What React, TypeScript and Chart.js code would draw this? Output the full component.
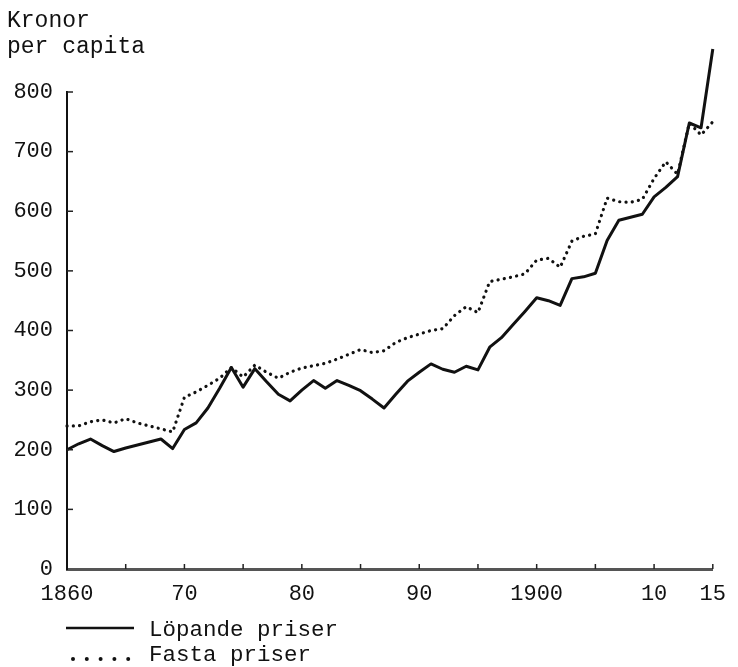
import React, { useEffect, useRef } from 'react';
import { Chart, registerables } from 'chart.js';

Chart.register(...registerables);

const years = [
  1860, 1861, 1862, 1863, 1864, 1865, 1866, 1867, 1868, 1869,
  1870, 1871, 1872, 1873, 1874, 1875, 1876, 1877, 1878, 1879,
  1880, 1881, 1882, 1883, 1884, 1885, 1886, 1887, 1888, 1889,
  1890, 1891, 1892, 1893, 1894, 1895, 1896, 1897, 1898, 1899,
  1900, 1901, 1902, 1903, 1904, 1905, 1906, 1907, 1908, 1909,
  1910, 1911, 1912, 1913, 1914, 1915,
];

const lopandePriser = [
  200, 210, 218, 207, 197, 203, 208, 213, 218, 202,
  234, 245, 270, 303, 338, 305, 336, 314, 293, 282,
  300, 316, 303, 316, 308, 299, 285, 270, 293, 315,
  330, 344, 335, 330, 340, 334, 372, 388, 410, 432,
  455, 450, 442, 487, 490, 496, 551, 585, 590, 595,
  624, 640, 658, 748, 740, 872,
];

const fastaPriser = [
  240, 240, 247, 250, 245, 252, 245, 240, 235, 230,
  288, 297, 308, 320, 338, 322, 342, 330, 320, 330,
  337, 341, 345, 352, 360, 368, 363, 366, 380, 388,
  394, 400, 403, 425, 440, 430, 482, 486, 490, 495,
  518, 521, 506, 550, 558, 562, 622, 616, 615, 620,
  655, 683, 662, 748, 728, 750,
];

const xTickLabels: Record<number, string> = {
  1860: '1860', 1870: '70', 1880: '80', 1890: '90', 1900: '1900', 1910: '10', 1915: '15',
};

const yTitleLines = ['Kronor', 'per capita'];
const legendLabels = ['Löpande priser', 'Fasta priser'];

const FONT = "'Liberation Mono', 'DejaVu Sans Mono', monospace";

const innerTicks = {
  id: 'innerTicks',
  afterDraw(chart: any) {
    const { ctx, scales } = chart;
    const x = scales.x;
    const y = scales.y;
    ctx.save();
    ctx.strokeStyle = '#222';
    ctx.lineWidth = 1.5;
    y.ticks.forEach((t: any) => {
      if (t.value === 0) return;
      const py = y.getPixelForValue(t.value);
      ctx.beginPath();
      ctx.moveTo(x.left, py);
      ctx.lineTo(x.left + 6, py);
      ctx.stroke();
    });
    x.ticks.forEach((t: any) => {
      if (t.value === 1860) return;
      const px = x.getPixelForValue(t.value);
      ctx.beginPath();
      ctx.moveTo(px, y.bottom);
      ctx.lineTo(px, y.bottom - 5);
      ctx.stroke();
    });
    ctx.restore();
  },
};

const textPlugin = {
  id: 'textPlugin',
  afterDraw(chart: any) {
    const { ctx } = chart;
    ctx.save();
    ctx.fillStyle = '#111';
    ctx.textAlign = 'left';
    ctx.textBaseline = 'alphabetic';
    ctx.font = `23px ${FONT}`;
    ctx.fillText(yTitleLines[0], 7, 27);
    ctx.fillText(yTitleLines[1], 7, 53);

    // legend
    ctx.font = `22.5px ${FONT}`;
    ctx.fillText(legendLabels[0], 149, 636);
    ctx.fillText(legendLabels[1], 149, 661);
    ctx.strokeStyle = '#111';
    ctx.lineWidth = 2.5;
    ctx.beginPath();
    ctx.moveTo(66, 628);
    ctx.lineTo(134, 628);
    ctx.stroke();
    for (let i = 0; i < 5; i++) {
      ctx.beginPath();
      ctx.arc(73 + i * 13.8, 659, 2, 0, Math.PI * 2);
      ctx.fill();
    }
    ctx.restore();
  },
};

export default function App() {
  const ref = useRef<HTMLCanvasElement | null>(null);

  useEffect(() => {
    if (!ref.current) return;
    const chart = new Chart(ref.current, {
      type: 'line',
      data: {
        datasets: [
          {
            label: legendLabels[0],
            data: years.map((yr, i) => ({ x: yr, y: lopandePriser[i] })),
            borderColor: '#111',
            borderWidth: 3,
            pointRadius: 0,
            tension: 0,
            clip: false,
            borderJoinStyle: 'round',
          },
          {
            label: legendLabels[1],
            data: years.map((yr, i) => ({ x: yr, y: fastaPriser[i] })),
            borderColor: '#111',
            borderWidth: 3.2,
            borderDash: [0.1, 6.2],
            borderCapStyle: 'round',
            pointRadius: 0,
            tension: 0,
            clip: false,
          },
        ],
      },
      options: {
        animation: false,
        responsive: false,
        devicePixelRatio: 1,
        layout: { padding: { top: 92, right: 22, bottom: 0, left: 0 } },
        plugins: {
          legend: { display: false },
          tooltip: { enabled: false },
          title: { display: false },
        },
        scales: {
          x: {
            type: 'linear',
            min: 1860,
            max: 1915,
            grid: { display: false, drawTicks: false },
            border: { display: true, color: '#555', width: 3 },
            ticks: {
              stepSize: 5,
              autoSkip: false,
              maxRotation: 0,
              padding: 12,
              color: '#111',
              font: { family: FONT, size: 22 },
              callback: (v: any) => xTickLabels[Number(v)] ?? '',
            },
            afterFit: (scale: any) => {
              scale.height = 98;
            },
          },
          y: {
            type: 'linear',
            min: 0,
            max: 800,
            grid: { display: false, drawTicks: false },
            border: { display: true, color: '#111', width: 2 },
            ticks: {
              stepSize: 100,
              padding: 14,
              color: '#111',
              font: { family: FONT, size: 22 },
            },
            afterFit: (scale: any) => {
              scale.width = 67;
            },
          },
        },
      },
      plugins: [innerTicks, textPlugin],
    } as any);
    return () => chart.destroy();
  }, []);

  return (
    <div style={{ position: 'absolute', left: 0, top: 0, width: 738, height: 667, background: '#fff' }}>
      <canvas ref={ref} width={738} height={667} />
    </div>
  );
}
